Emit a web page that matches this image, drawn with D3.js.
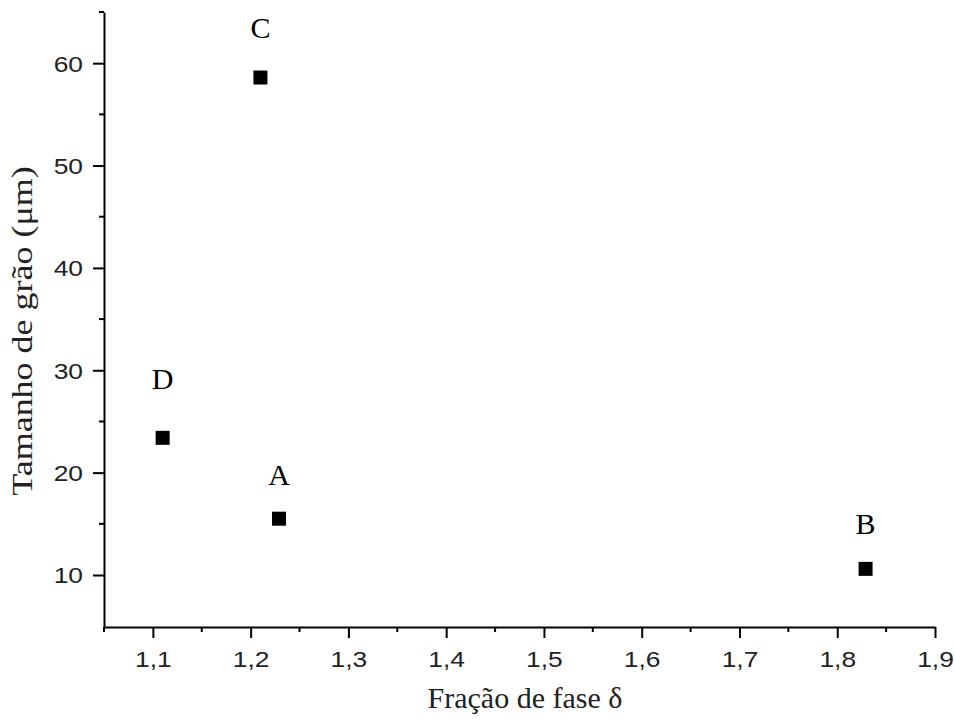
<!DOCTYPE html>
<html>
<head>
<meta charset="utf-8">
<script src="https://cdn.jsdelivr.net/npm/d3@7"></script>
<style>
  body { margin: 0; background: #fff; }
  svg { display: block; }
</style>
</head>
<body>
<div id="chart"></div>
<script>
// grain size vs delta phase fraction
var labels = ['C', 'D', 'A', 'B'];
var fracao = [1.21, 1.11, 1.229, 1.829];
var tamanho = [58.6, 23.4, 15.5, 10.6];
var xTicks = [1.1, 1.2, 1.3, 1.4, 1.5, 1.6, 1.7, 1.8, 1.9];
var yTicks = [10, 20, 30, 40, 50, 60];

// label lift above each point (px), as placed in the original figure
var labelLift = [40, 49, 34, 35];

var width = 954, height = 723;

var x = d3.scaleLinear().domain([1.05, 1.9]).range([104, 935]);
var y = d3.scaleLinear().domain([4.92, 65]).range([627, 12]);

var svg = d3.select('#chart').append('svg')
	.attr('width', width)
	.attr('height', height);

var fmt = function(d){ return d3.format('.1f')(d).replace('.', ','); };
var sans = '"Liberation Sans", Arial, sans-serif';
var serif = '"Liberation Serif", "Times New Roman", serif';

// x axis
var xAxis = svg.append('g')
	.attr('transform', 'translate(0,' + y.range()[0] + ')')
	.call(d3.axisBottom(x).tickValues(xTicks).tickFormat(fmt).tickSize(11).tickSizeOuter(0));
xAxis.select('.domain').attr('stroke-width', 2);
xAxis.selectAll('.tick line').attr('stroke-width', 2);
xAxis.selectAll('.tick text')
	.attr('y', 0).attr('dy', null)
	.attr('transform', 'translate(0,40) scale(1.2,1)')
	.style('font-family', sans)
	.style('font-size', '22px')
	.attr('fill', '#222');

var xMinor = d3.range(1.05, 1.9, 0.1);
xAxis.selectAll('.minor').data(xMinor).enter().append('line')
	.attr('class', 'minor')
	.attr('x1', function(d){ return x(d); })
	.attr('x2', function(d){ return x(d); })
	.attr('y1', 0).attr('y2', 5)
	.attr('stroke', '#000').attr('stroke-width', 2);

// y axis
var yAxis = svg.append('g')
	.attr('transform', 'translate(' + x.range()[0] + ',0)')
	.call(d3.axisLeft(y).tickValues(yTicks).tickSize(11).tickSizeOuter(0));
yAxis.select('.domain').attr('stroke-width', 2);
yAxis.selectAll('.tick line').attr('stroke-width', 2);
yAxis.selectAll('.tick text')
	.attr('x', 0).attr('dy', '0.36em')
	.attr('transform', 'translate(-21,0) scale(1.2,1)')
	.style('font-family', sans)
	.style('font-size', '22px')
	.attr('fill', '#222');

var yMinor = [15, 25, 35, 45, 55, 65];
yAxis.selectAll('.minor').data(yMinor).enter().append('line')
	.attr('class', 'minor')
	.attr('y1', function(d){ return y(d); })
	.attr('y2', function(d){ return y(d); })
	.attr('x1', 0).attr('x2', -5)
	.attr('stroke', '#000').attr('stroke-width', 2);

// axis titles
svg.append('text')
	.attr('x', 525).attr('y', 708)
	.attr('text-anchor', 'middle')
	.style('font-family', serif)
	.style('font-size', '30px')
	.attr('fill', '#222')
	.text('Fração de fase δ');

svg.append('text')
	.attr('transform', 'translate(32,331) rotate(-90) scale(1.2,1)')
	.attr('text-anchor', 'middle')
	.style('font-family', serif)
	.style('font-size', '30px')
	.attr('fill', '#222')
	.text('Tamanho de grão (μm)');

// points
var pts = d3.range(labels.length);
var size = 14;

svg.selectAll('.pt').data(pts).enter().append('rect')
	.attr('class', 'pt')
	.attr('x', function(i){ return x(fracao[i]) - size / 2; })
	.attr('y', function(i){ return y(tamanho[i]) - size / 2; })
	.attr('width', size).attr('height', size)
	.attr('fill', '#000');

svg.selectAll('.lbl').data(pts).enter().append('text')
	.attr('class', 'lbl')
	.attr('x', function(i){ return x(fracao[i]); })
	.attr('y', function(i){ return y(tamanho[i]) - labelLift[i]; })
	.attr('text-anchor', 'middle')
	.style('font-family', serif)
	.style('font-size', '30px')
	.attr('fill', '#000')
	.text(function(i){ return labels[i]; });
</script>
</body>
</html>
